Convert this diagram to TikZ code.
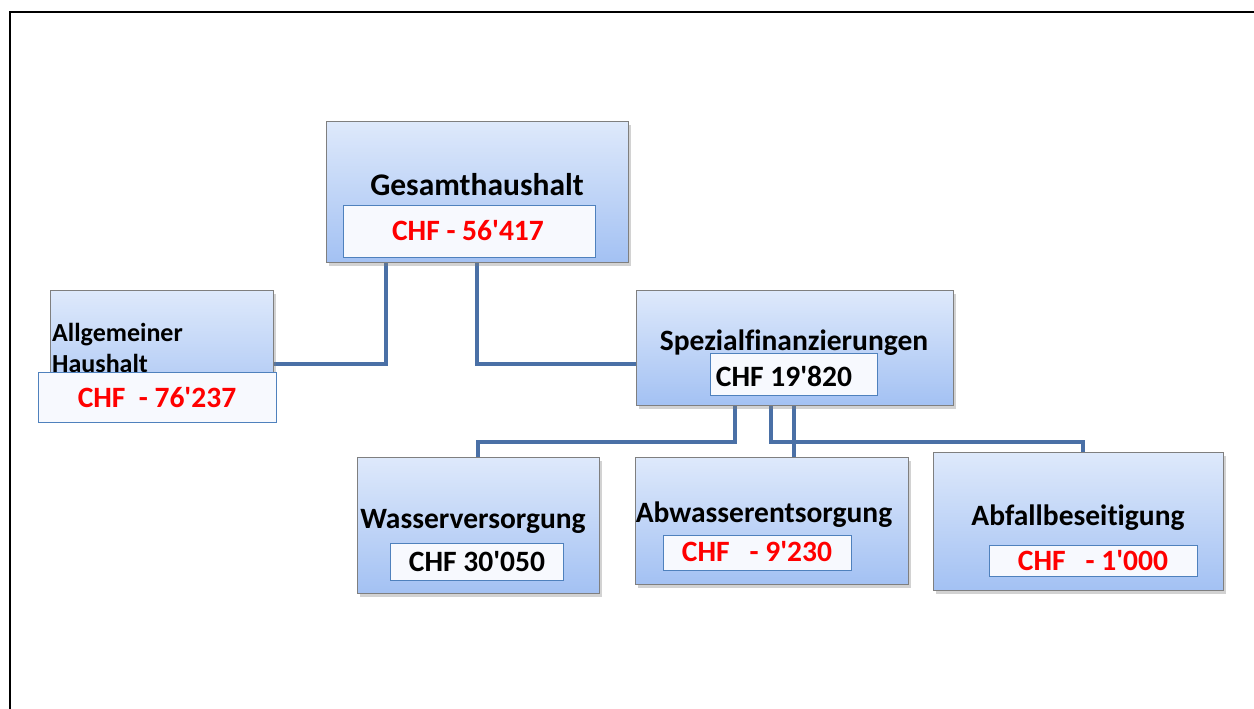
\documentclass[tikz,border=0pt]{standalone}
\usepackage{fontspec}
\setmainfont{Carlito}[Ligatures=NoCommon]
\usetikzlibrary{shadows}
\definecolor{boxtop}{HTML}{DEE9FB}
\definecolor{boxbot}{HTML}{A3C1F3}
\definecolor{boxline}{HTML}{7F7F7F}
\definecolor{inline}{HTML}{4F81BD}
\definecolor{infill}{HTML}{F7F9FE}
\definecolor{conn}{HTML}{4A70A6}
\definecolor{redtxt}{HTML}{FF0000}
\newcommand\apo{\textquotesingle}
\tikzset{
  unitbox/.style={draw=boxline, line width=1pt, top color=boxtop, bottom color=boxbot,
    drop shadow={opacity=0.35, shadow xshift=2pt, shadow yshift=-3pt},
    anchor=north west, inner sep=0pt},
  valbox/.style={draw=inline, line width=1.3pt, fill=infill, anchor=north west, inner sep=0pt},
  title/.style={font=\bfseries\fontsize{29.5}{33}\selectfont, anchor=base, inner sep=0pt},
  smalltitle/.style={font=\bfseries\fontsize{26}{29}\selectfont, anchor=base west, inner sep=0pt},
  val/.style={font=\bfseries\fontsize{29.5}{33}\selectfont, anchor=base, inner sep=0pt},
  redval/.style={val, text=redtxt},
  link/.style={draw=conn, line width=4pt}
}
\begin{document}
\begin{tikzpicture}[x=1pt,y=-1pt]
\useasboundingbox (0,0) rectangle (1254,709);
\fill[white] (0,0) rectangle (1254,709);
\draw[line width=2pt] (10,720) -- (10,12) -- (1270,12);

% placement nodes (for connectors)
\node[minimum width=302pt, minimum height=141pt, anchor=north west, inner sep=0pt] (g) at (326,121) {};
\node[minimum width=223pt, minimum height=128pt, anchor=north west, inner sep=0pt] (ah) at (50,290) {};
\node[minimum width=317pt, minimum height=115pt, anchor=north west, inner sep=0pt] (sp) at (636,290) {};
\node[minimum width=242pt, minimum height=136pt, anchor=north west, inner sep=0pt] (wa) at (357,457) {};
\node[minimum width=273pt, minimum height=127pt, anchor=north west, inner sep=0pt] (ab) at (635,457) {};
\node[minimum width=290pt, minimum height=138pt, anchor=north west, inner sep=0pt] (af) at (933,452) {};

\draw[link] ([xshift=60pt]g.south west) |- ([yshift=-10pt]ah.east);
\draw[link] ([xshift=151pt]g.south west) |- ([yshift=-16.5pt]sp.west);
\draw[link] ([xshift=99pt]sp.south west) -- ++(0,37) -| ([xshift=121pt]wa.north west);
\draw[link] ([xshift=135pt]sp.south west) -- ++(0,37) -| ([xshift=150pt]af.north west);
\draw[link] ([xshift=158pt]sp.south west) -- ([xshift=159pt]ab.north west);

% visible boxes
\node[unitbox, minimum width=302pt, minimum height=141pt] (gb) at (g.north west) {};
\node[unitbox, minimum width=223pt, minimum height=128pt] (ahb) at (ah.north west) {};
\node[unitbox, minimum width=317pt, minimum height=115pt] (spb) at (sp.north west) {};
\node[unitbox, minimum width=242pt, minimum height=136pt] (wab) at (wa.north west) {};
\node[unitbox, minimum width=273pt, minimum height=127pt] (abb) at (ab.north west) {};
\node[unitbox, minimum width=290pt, minimum height=138pt] (afb) at (af.north west) {};

% titles
\node[title, font=\bfseries\fontsize{31.5}{35}\selectfont] (gt) at (477,195) {Gesamthaushalt};
\node[smalltitle] (at1) at (52,341) {Allgemeiner};
\node[smalltitle] (at2) at (52,372) {Haushalt};
\node[title] (st) at (794,350) {Spezialfinanzierungen};
\node[title] (wt) at (473,528) {Wasserversorgung};
\node[title] (abt) at (764,522) {Abwasserentsorgung};
\node[title] (aft) at (1078,525) {Abfallbeseitigung};

% value boxes
\node[valbox, minimum width=252pt, minimum height=52pt] (gv) at (343,205) {};
\node[valbox, minimum width=238pt, minimum height=50pt] (av) at (38,372) {};
\node[valbox, minimum width=167pt, minimum height=42pt] (sv) at (710,353) {};
\node[valbox, minimum width=173pt, minimum height=37pt] (wv) at (390,543) {};
\node[valbox, minimum width=188pt, minimum height=35pt] (abv) at (663,535) {};
\node[valbox, minimum width=208pt, minimum height=31pt] (afv) at (989,545) {};

\node[redval] at (468,240) {CHF - 56\apo417};
\node[redval] at (157,407) {CHF\ \ - 76\apo237};
\node[val] at (784,386) {CHF 19\apo820};
\node[val] at (477,571) {CHF 30\apo050};
\node[redval] at (757,561) {CHF\ \ \ - 9\apo230};
\node[redval] at (1093,570) {CHF\ \ \ - 1\apo000};
\end{tikzpicture}
\end{document}
